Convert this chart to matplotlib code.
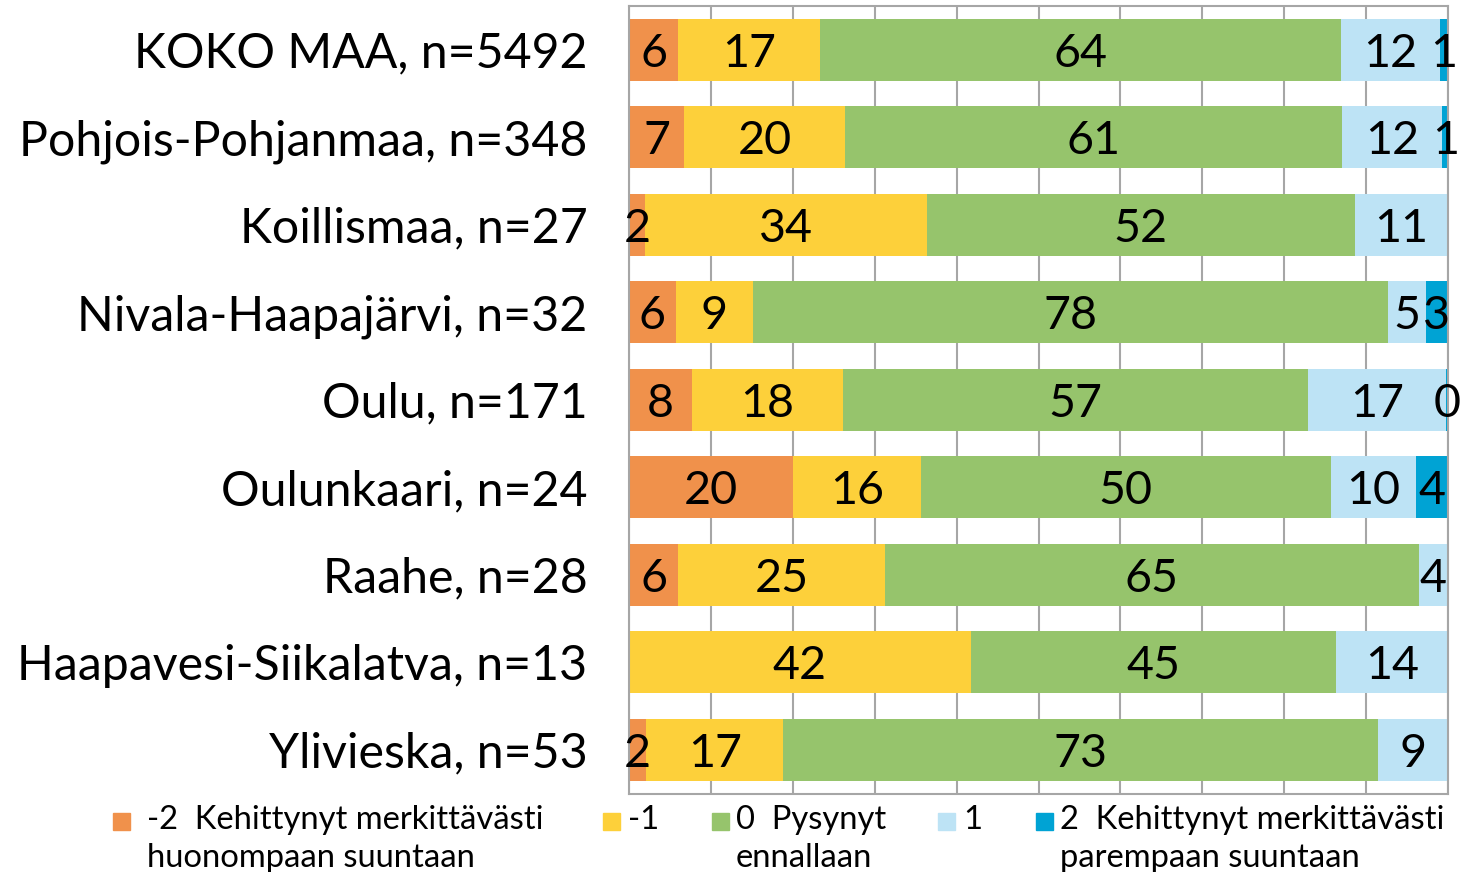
"""Stacked 100% bar chart of regional development ratings."""

import matplotlib.pyplot as plt
import numpy as np
from matplotlib import font_manager
from matplotlib.patches import Rectangle

regions = [
    "KOKO MAA, n=5492",
    "Pohjois-Pohjanmaa, n=348",
    "Koillismaa, n=27",
    "Nivala-Haapajärvi, n=32",
    "Oulu, n=171",
    "Oulunkaari, n=24",
    "Raahe, n=28",
    "Haapavesi-Siikalatva, n=13",
    "Ylivieska, n=53",
]

# shares (%) per answer category, one value per region
minus2 = [6.0, 6.7, 2.0, 5.7, 7.7, 20.0, 6.0, 0.0, 2.1]
minus1 = [17.3, 19.7, 34.4, 9.4, 18.4, 15.6, 25.2, 41.7, 16.7]
zero = [63.6, 60.7, 52.2, 77.6, 56.8, 50.1, 65.2, 44.6, 72.6]
plus1 = [12.1, 12.2, 11.4, 4.6, 16.8, 10.4, 3.6, 13.7, 8.6]
plus2 = [1.0, 0.7, 0.0, 2.7, 0.3, 3.9, 0.0, 0.0, 0.0]

series = [minus2, minus1, zero, plus1, plus2]
legend_labels = [
    "-2  Kehittynyt merkittävästi\nhuonompaan suuntaan",
    "-1",
    "0  Pysynyt\nennallaan",
    "1",
    "2  Kehittynyt merkittävästi\nparempaan suuntaan",
]
colors = ["#F0914B", "#FDD03A", "#96C46C", "#BDE3F5", "#00A3D4"]

names = {f.name for f in font_manager.fontManager.ttflist}
FONT = "Lato" if "Lato" in names else "DejaVu Sans"
plt.rcParams["font.family"] = [FONT, "DejaVu Sans"]

W, H = 1465, 872
fig = plt.figure(figsize=(W / 100, H / 100), dpi=100)
renderer = fig.canvas.get_renderer()


def fit_size(text, target_px, base=30):
    """Font size that gives `text` the wanted width in pixels."""
    t = fig.text(0, 0, text, fontsize=base)
    w = t.get_window_extent(renderer).width
    t.remove()
    return base * target_px / w


label_size = fit_size("Pohjois-Pohjanmaa, n=348", 568)
legend_size = fit_size("-2  Kehittynyt merkittävästi", 396)
value_size = fit_size("64", 54)

ax = fig.add_axes([0.4294, 0.0900, 0.5590, 0.9030])

y = np.arange(len(regions))
left = np.zeros(len(regions))
for vals, col in zip(series, colors):
    vals = np.array(vals)
    ax.barh(y, vals, left=left, height=0.71, color=col, zorder=2)
    for yi, (l, v) in enumerate(zip(left, vals)):
        if v > 0:
            ax.text(l + v / 2, yi, f"{v:.0f}", ha="center",
                    va="center_baseline", fontsize=value_size,
                    color="black", zorder=3, clip_on=False)
    left += vals

ax.set_xlim(0, 100)
ax.set_ylim(len(regions) - 0.5, -0.5)
ax.set_xticks(np.arange(0, 101, 10))
ax.set_xticklabels([])
ax.set_yticks(y)
ax.set_yticklabels(regions, fontsize=label_size)
ax.tick_params(axis="both", length=0)
ax.tick_params(axis="y", pad=30)
ax.grid(axis="x", color="#A6A6A6", linewidth=1.5, zorder=0)
ax.set_axisbelow(True)
for sp in ax.spines.values():
    sp.set_color("#A6A6A6")
    sp.set_linewidth(1.5)

# legend drawn by hand so the markers line up with the first text line
marker_x = [113, 603, 712, 938, 1036]
text_x = [147, 628, 736, 963, 1060]
for mx, tx, col, lab in zip(marker_x, text_x, colors, legend_labels):
    fig.patches.append(Rectangle((mx / W, 1 - 830 / H), 17 / W, 17 / H,
                                 transform=fig.transFigure, color=col))
    fig.text(tx / W, 1 - 805 / H, lab, fontsize=legend_size, va="top",
             ha="left", linespacing=1.35)

fig.savefig("out.png", dpi=100)
